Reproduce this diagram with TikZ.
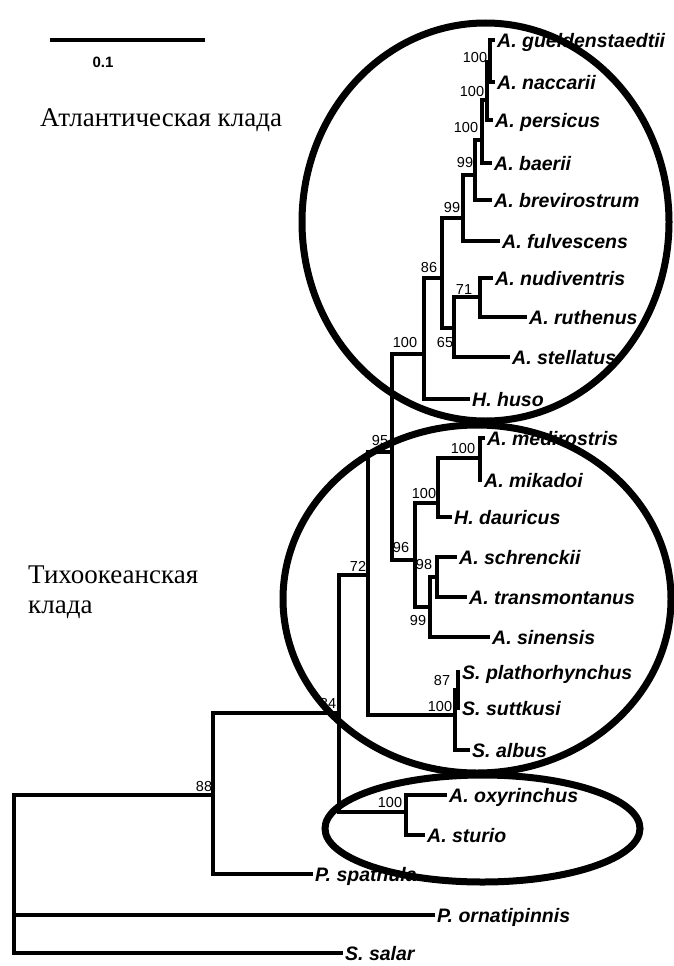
\documentclass[tikz,border=0pt]{standalone}
\usepackage{fontspec}
\setmainfont{Liberation Serif}
\setsansfont{Liberation Sans}
\begin{document}
\begin{tikzpicture}[x=1pt,y=-1pt,
  br/.style={line width=3.3pt, line join=miter},
  clade/.style={line width=7pt},
  taxon/.style={anchor=base west, inner sep=0pt, xshift=2pt, yshift=-7.5pt,
    font=\sffamily\bfseries\itshape\fontsize{19.5}{21}\selectfont},
  boot/.style={inner sep=0pt, font=\sffamily\fontsize{14.5}{15}\selectfont},
  rus/.style={anchor=base west, inner sep=0pt, font=\rmfamily\fontsize{27}{30}\selectfont}]
\fill[white] (0,0) rectangle (674,966);
\useasboundingbox (0,0) rectangle (674,966);

% scale bar
\coordinate (sb1) at (50,40);
\coordinate (sb2) at (205,40);
\draw[line width=4pt] (sb1) -- (sb2);
\node[inner sep=0pt, font=\sffamily\bfseries\fontsize{15}{16}\selectfont] (sbl) at (103,62) {0.1};

% clade titles
\node[rus] (atlt) at (40,126) {Атлантическая клада};
\node[rus] (pact1) at (28,583) {Тихоокеанская};
\node[rus] (pact2) at (28,613) {клада};

% internal nodes
\coordinate (root) at (14,874);
\coordinate (n88) at (213,795);
\coordinate (n84) at (339,713);
\coordinate (n72) at (368,575);
\coordinate (n95) at (392,452);
\coordinate (n100h) at (424,354);
\coordinate (n86) at (442,278);
\coordinate (n99b) at (463,218);
\coordinate (n99a) at (475,175);
\coordinate (n100c) at (482,140);
\coordinate (n100b) at (487,100);
\coordinate (n100a) at (490,62);
\coordinate (n65) at (454,328);
\coordinate (n71) at (480,297);
\coordinate (n96) at (415,560);
\coordinate (n100d) at (438,503);
\coordinate (n100m) at (480,458);
\coordinate (n99s) at (430,607);
\coordinate (n98) at (437,577);
\coordinate (nS) at (455,715);
\coordinate (n87) at (458,690);
\coordinate (nO) at (406,812);

% leaves
\coordinate (gue) at (495,40);
\coordinate (nac) at (495,82);
\coordinate (per) at (493,120);
\coordinate (bae) at (492,163);
\coordinate (bre) at (492,200);
\coordinate (ful) at (500,241);
\coordinate (nud) at (493,278);
\coordinate (rut) at (527,317);
\coordinate (ste) at (510,357);
\coordinate (hus) at (470,399);
\coordinate (med) at (485,438);
\coordinate (mik) at (482,480);
\coordinate (dau) at (452,517);
\coordinate (sch) at (457,557);
\coordinate (tra) at (467,597);
\coordinate (sin) at (490,637);
\coordinate (pla) at (460,672);
\coordinate (sut) at (460,708);
\coordinate (alb) at (470,750);
\coordinate (oxy) at (447,795);
\coordinate (stu) at (425,835);
\coordinate (spa) at (313,874);
\coordinate (orn) at (435,915);
\coordinate (sal) at (343,953);

% branches
\draw[br] (root) |- (n88);
\draw[br] (root) |- (orn);
\draw[br] (root) |- (sal);
\draw[br] (n88) |- (n84);
\draw[br] (n88) |- (spa);
\draw[br] (n84) |- (n72);
\draw[br] (n84) |- (nO);
\draw[br] (nO) |- (oxy);
\draw[br] (nO) |- (stu);
\draw[br] (n72) |- (n95);
\draw[br] (n72) |- (nS);
\draw[br] (nS) |- (n87);
\draw[br] (nS) |- (alb);
\draw[br] (n87) |- (pla);
\draw[br] (n87) |- (sut);
\draw[br] (n95) |- (n100h);
\draw[br] (n95) |- (n96);
\draw[br] (n96) |- (n100d);
\draw[br] (n96) |- (n99s);
\draw[br] (n100d) |- (n100m);
\draw[br] (n100d) |- (dau);
\draw[br] (n100m) |- (med);
\draw[br] (n100m) |- (mik);
\draw[br] (n99s) |- (n98);
\draw[br] (n99s) |- (sin);
\draw[br] (n98) |- (sch);
\draw[br] (n98) |- (tra);
\draw[br] (n100h) |- (n86);
\draw[br] (n100h) |- (hus);
\draw[br] (n86) |- (n99b);
\draw[br] (n86) |- (n65);
\draw[br] (n65) |- (n71);
\draw[br] (n65) |- (ste);
\draw[br] (n71) |- (nud);
\draw[br] (n71) |- (rut);
\draw[br] (n99b) |- (n99a);
\draw[br] (n99b) |- (ful);
\draw[br] (n99a) |- (n100c);
\draw[br] (n99a) |- (bre);
\draw[br] (n100c) |- (n100b);
\draw[br] (n100c) |- (bae);
\draw[br] (n100b) |- (n100a);
\draw[br] (n100b) |- (per);
\draw[br] (n100a) |- (gue);
\draw[br] (n100a) |- (nac);

% taxon labels
\node[taxon] (tgue) at (gue) {A. gueldenstaedtii};
\node[taxon] (tnac) at (nac) {A. naccarii};
\node[taxon] (tper) at (per) {A. persicus};
\node[taxon] (tbae) at (bae) {A. baerii};
\node[taxon] (tbre) at (bre) {A. brevirostrum};
\node[taxon] (tful) at (ful) {A. fulvescens};
\node[taxon] (tnud) at (nud) {A. nudiventris};
\node[taxon] (trut) at (rut) {A. ruthenus};
\node[taxon] (tste) at (ste) {A. stellatus};
\node[taxon] (thus) at (hus) {H. huso};
\node[taxon] (tmed) at (med) {A. medirostris};
\node[taxon] (tmik) at (mik) {A. mikadoi};
\node[taxon] (tdau) at (dau) {H. dauricus};
\node[taxon] (tsch) at (sch) {A. schrenckii};
\node[taxon] (ttra) at (tra) {A. transmontanus};
\node[taxon] (tsin) at (sin) {A. sinensis};
\node[taxon] (tpla) at (pla) {S. plathorhynchus};
\node[taxon] (tsut) at (sut) {S. suttkusi};
\node[taxon] (talb) at (alb) {S. albus};
\node[taxon] (toxy) at (oxy) {A. oxyrinchus};
\node[taxon] (tstu) at (stu) {A. sturio};
\node[taxon] (tspa) at (spa) {P. spathula};
\node[taxon] (torn) at (orn) {P. ornatipinnis};
\node[taxon] (tsal) at (sal) {S. salar};

% bootstrap values
\node[boot] (b1) at (475,58) {100};
\node[boot] (b2) at (472,92) {100};
\node[boot] (b3) at (466,128) {100};
\node[boot] (b4) at (465,163) {99};
\node[boot] (b5) at (452,208) {99};
\node[boot] (b6) at (429,268) {86};
\node[boot] (b7) at (445,343) {65};
\node[boot] (b8) at (464,290) {71};
\node[boot] (b9) at (405,343) {100};
\node[boot] (b10) at (380,441) {95};
\node[boot] (b11) at (401,548) {96};
\node[boot] (b12) at (424,494) {100};
\node[boot] (b13) at (463,449) {100};
\node[boot] (b14) at (418,621) {99};
\node[boot] (b15) at (424,565) {98};
\node[boot] (b16) at (358,566) {72};
\node[boot] (b17) at (440,706) {100};
\node[boot] (b18) at (442,681) {87};
\node[boot] (b19) at (328,703) {84};
\node[boot] (b20) at (390,802) {100};
\node[boot] (b21) at (204,786) {88};

% clade ellipses
\draw[clade] (485.5,222) ellipse [x radius=183.5pt, y radius=199pt];
\draw[clade] (477,599) ellipse [x radius=194pt, y radius=174pt];
\draw[clade] (482.5,828.5) ellipse [x radius=157.5pt, y radius=53.5pt];
\end{tikzpicture}
\end{document}
